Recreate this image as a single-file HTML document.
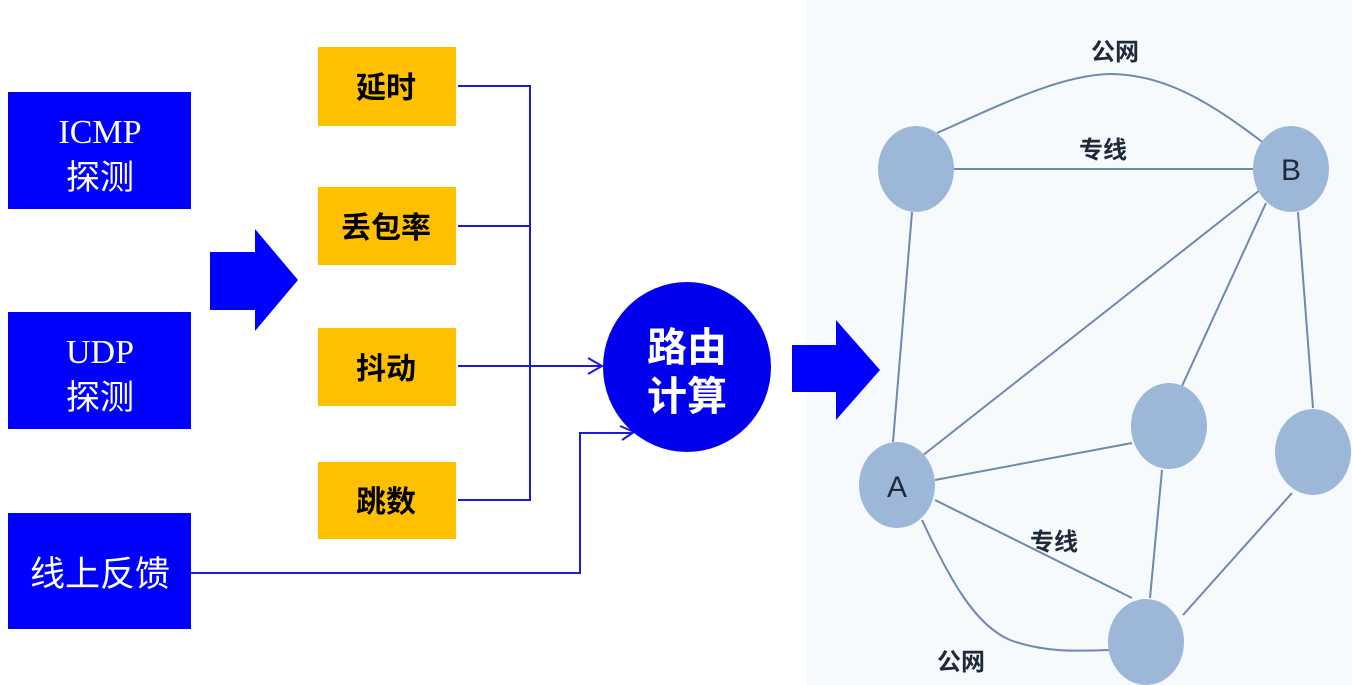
<!DOCTYPE html>
<html><head><meta charset="utf-8"><style>
html,body{margin:0;padding:0;background:#fff;width:1352px;height:685px;overflow:hidden}
svg{display:block}
text{font-family:"Liberation Sans","Noto Sans CJK SC",sans-serif}
</style></head><body>
<svg width="1352" height="685" viewBox="0 0 1352 685" xmlns="http://www.w3.org/2000/svg">
<rect x="806" y="0" width="546" height="685" fill="#f6fafd"/>
<rect x="8" y="92" width="183" height="117" fill="#0000ff"/>
<text x="100" y="143" fill="#fff" font-size="34" text-anchor="middle" style="font-family:'Liberation Serif',serif">ICMP</text>
<text x="100" y="189" fill="#fff" font-size="34" text-anchor="middle">探测</text>
<rect x="8" y="312" width="183" height="117" fill="#0000ff"/>
<text x="100" y="363" fill="#fff" font-size="34" text-anchor="middle" style="font-family:'Liberation Serif',serif">UDP</text>
<text x="100" y="409" fill="#fff" font-size="34" text-anchor="middle">探测</text>
<rect x="8" y="513" width="183" height="116" fill="#0000ff"/>
<text x="100" y="586" fill="#fff" font-size="35" text-anchor="middle">线上反馈</text>
<polygon points="210,252 255,252 255,229 298,280 255,331 255,310 210,310" fill="#0000ff"/>
<g fill="#ffc000">
<rect x="318" y="47" width="138" height="79"/>
<rect x="318" y="187" width="138" height="78"/>
<rect x="318" y="328" width="138" height="78"/>
<rect x="318" y="462" width="138" height="77"/>
</g>
<g font-size="30" font-weight="bold" text-anchor="middle" fill="#000">
<text x="386" y="98">延时</text>
<text x="386" y="238">丢包率</text>
<text x="386" y="379">抖动</text>
<text x="386" y="512">跳数</text>
</g>
<g stroke="#1a1ae0" stroke-width="2" fill="none">
<polyline points="458,86 530,86 530,500 458,500"/>
<line x1="458" y1="226" x2="530" y2="226"/>
<line x1="458" y1="366" x2="602" y2="366"/>
<polyline points="588,358 602,366 588,374"/>
<polyline points="191,573 580,573 580,433 632,433"/>
<polyline points="620,426 634,432 622,440"/>
</g>
<ellipse cx="687" cy="367" rx="84" ry="85" fill="#0000ee"/>
<text x="687" y="361" fill="#fff" font-size="40" font-weight="bold" text-anchor="middle">路由</text>
<text x="687" y="410" fill="#fff" font-size="40" font-weight="bold" text-anchor="middle">计算</text>
<polygon points="792,345 836,345 836,320 880,370 836,420 836,392 792,392" fill="#0000ff"/>
<g stroke="#6f88ad" stroke-width="2" fill="none">
<path d="M937,133 C1000,105 1060,75 1110,74 C1170,74 1220,110 1265,144"/>
<line x1="916" y1="169" x2="1292" y2="169"/>
<line x1="912" y1="212" x2="893" y2="442"/>
<line x1="922" y1="456" x2="1260" y2="190"/>
<line x1="1266" y1="203" x2="1182" y2="386"/>
<line x1="1298" y1="212" x2="1313" y2="408"/>
<line x1="935" y1="480" x2="1132" y2="443"/>
<line x1="935" y1="500" x2="1132" y2="598"/>
<line x1="1162" y1="470" x2="1150" y2="598"/>
<line x1="1292" y1="493" x2="1183" y2="615"/>
<path d="M922,520 C950,580 975,625 1010,640 C1045,653 1080,651 1110,650"/>
</g>
<g fill="#9db7d8">
<ellipse cx="916" cy="169" rx="38" ry="43"/>
<ellipse cx="1291" cy="169" rx="38" ry="43"/>
<ellipse cx="897" cy="485" rx="38" ry="43"/>
<ellipse cx="1169" cy="426" rx="38" ry="43"/>
<ellipse cx="1313" cy="452" rx="38" ry="43"/>
<ellipse cx="1146" cy="642" rx="38" ry="43"/>
</g>
<g fill="#1e2a3a" font-size="24" text-anchor="middle" font-weight="bold">
<text x="1291" y="180" font-size="30" font-weight="normal">B</text>
<text x="897" y="497" font-size="30" font-weight="normal">A</text>
<text x="1115" y="60">公网</text>
<text x="1103" y="158">专线</text>
<text x="1054" y="550">专线</text>
<text x="961" y="670">公网</text>
</g>
</svg>
</body></html>
